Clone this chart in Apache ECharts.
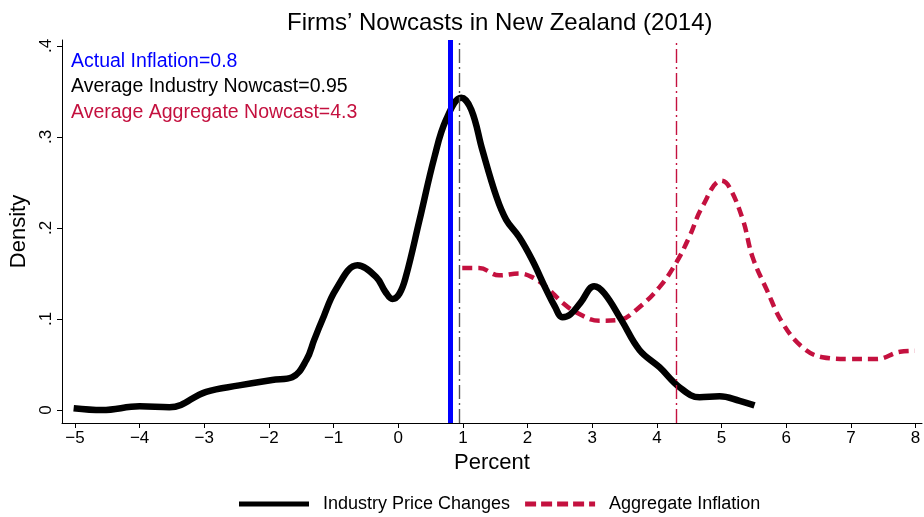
<!DOCTYPE html>
<html><head><meta charset="utf-8">
<script src="https://cdn.jsdelivr.net/npm/echarts@6/dist/echarts.min.js"></script>
<style>html,body{margin:0;padding:0;background:#fff}#c{width:924px;height:517px}</style>
</head><body><div id="c"></div>
<script>
var industryX = [-5.02,-4.58,-4.0,-3.54,-2.97,-2.46,-1.95,-1.64,-1.42,-1.30,-1.18,-0.96,-0.63,-0.34,-0.20,-0.09,0.02,0.12,0.33,0.56,0.74,0.975,1.13,1.30,1.52,1.67,1.87,2.07,2.29,2.42,2.54,2.66,2.82,3.03,3.19,3.45,3.73,4.04,4.35,4.66,4.97,5.28,5.51];
var industryY = [0.002,0.000,0.004,0.003,0.020,0.027,0.033,0.036,0.055,0.077,0.098,0.133,0.159,0.146,0.130,0.122,0.128,0.147,0.209,0.278,0.319,0.343,0.330,0.286,0.234,0.209,0.190,0.165,0.132,0.114,0.102,0.105,0.118,0.136,0.128,0.099,0.066,0.047,0.025,0.014,0.015,0.010,0.005];
var aggX = [0.99,1.25,1.56,1.87,2.07,2.29,2.54,2.76,3.11,3.42,3.68,4.04,4.30,4.50,4.70,5.00,5.12,5.33,5.48,5.70,5.94,6.25,6.56,6.98,7.40,7.76,7.99];
var aggY = [0.156,0.156,0.148,0.150,0.146,0.135,0.118,0.107,0.098,0.099,0.110,0.135,0.162,0.190,0.223,0.252,0.245,0.209,0.168,0.132,0.096,0.069,0.058,0.056,0.056,0.064,0.065];
var xTicks = [-5,-4,-3,-2,-1,0,1,2,3,4,5,6,7,8];
var yTicks = [0,0.1,0.2,0.3,0.4];
var actualInflation = 0.8, industryNowcast = 0.95, aggregateNowcast = 4.3;
var titleText = 'Firms\u2019 Nowcasts in New Zealand (2014)';
var notes = ['Actual Inflation=0.8','Average Industry Nowcast=0.95','Average Aggregate Nowcast=4.3'];

var RED = '#c4113f';
var FONT = 'Liberation Sans';
function pairs(xs, ys){ return xs.map(function(x,i){return [x, ys[i]];}); }
var chart = echarts.init(document.getElementById('c'));
chart.setOption({
  animation:false,
  title:{text:titleText,left:282,top:6,textStyle:{fontFamily:FONT,fontWeight:'normal',fontSize:24,color:'#000'}},
  grid:{left:62,right:2,top:40,bottom:94},
  legend:{top:490,left:234,itemWidth:70,itemHeight:5,itemGap:15,
    textStyle:{fontFamily:FONT,fontSize:18,color:'#000',padding:[0,0,0,9]},
    data:[
      {name:'Industry Price Changes',icon:'path://M0,0H70V5H0Z',itemStyle:{color:'#000'}},
      {name:'Aggregate Inflation',icon:'path://M0,0H11V5H0Z M16,0H27V5H16Z M32,0H43V5H32Z M48,0H59V5H48Z M64,0H70V5H64Z',itemStyle:{color:RED}}
    ]},
  xAxis:{type:'value',min:-5.2,max:8.1,
    name:'Percent',nameLocation:'middle',nameGap:29,
    nameTextStyle:{fontFamily:FONT,fontSize:22,color:'#000'},
    axisLine:{onZero:false,lineStyle:{color:'#000',width:1}},
    axisTick:{show:true,length:5,customValues:xTicks,lineStyle:{color:'#000'}},
    axisLabel:{customValues:xTicks,fontFamily:FONT,fontSize:17,color:'#000',margin:7,
      formatter:function(v){return v<0?'\u2212'+Math.abs(v):String(v);}},
    splitLine:{show:false}},
  yAxis:{type:'value',min:-0.0143,max:0.4066,
    name:'Density',nameLocation:'middle',nameGap:30,
    nameTextStyle:{fontFamily:FONT,fontSize:22,color:'#000'},
    axisLine:{show:true,onZero:false,lineStyle:{color:'#000',width:1}},
    axisTick:{show:true,length:5,customValues:yTicks,lineStyle:{color:'#000'}},
    axisLabel:{customValues:yTicks,rotate:90,fontFamily:FONT,fontSize:17,color:'#000',margin:7,
      formatter:function(v){return v===0?'0':String(Math.round(v*10)/10).replace(/^0/,'');}},
    splitLine:{show:false}},
  graphic:[
    {type:'text',left:71,top:52,style:{text:notes[0],fill:'#0000ff',font:'19.5px "Liberation Sans"'}},
    {type:'text',left:71,top:77,style:{text:notes[1],fill:'#000',font:'19.5px "Liberation Sans"'}},
    {type:'text',left:71,top:103,style:{text:notes[2],fill:RED,font:'19.5px "Liberation Sans"'}}
  ],
  series:[
    {name:'Industry Price Changes',type:'line',data:pairs(industryX,industryY),smooth:0.4,symbol:'none',
      lineStyle:{color:'#000',width:6.5},itemStyle:{color:'#000'},z:3,
      markLine:{symbol:'none',silent:true,label:{show:false},
        data:[
          {xAxis:actualInflation,lineStyle:{color:'#0000ff',width:5,type:'solid'}},
          {xAxis:industryNowcast,lineStyle:{color:'#555',width:1.4,type:[14,4,2,4]}},
          {xAxis:aggregateNowcast,lineStyle:{color:RED,width:1.4,type:[14,4,2,4]}}
        ]}},
    {name:'Aggregate Inflation',type:'line',data:pairs(aggX,aggY),smooth:0.4,symbol:'none',
      lineStyle:{color:RED,width:4.5,type:[10,6]},itemStyle:{color:RED},z:2}
  ]
});
</script></body></html>
